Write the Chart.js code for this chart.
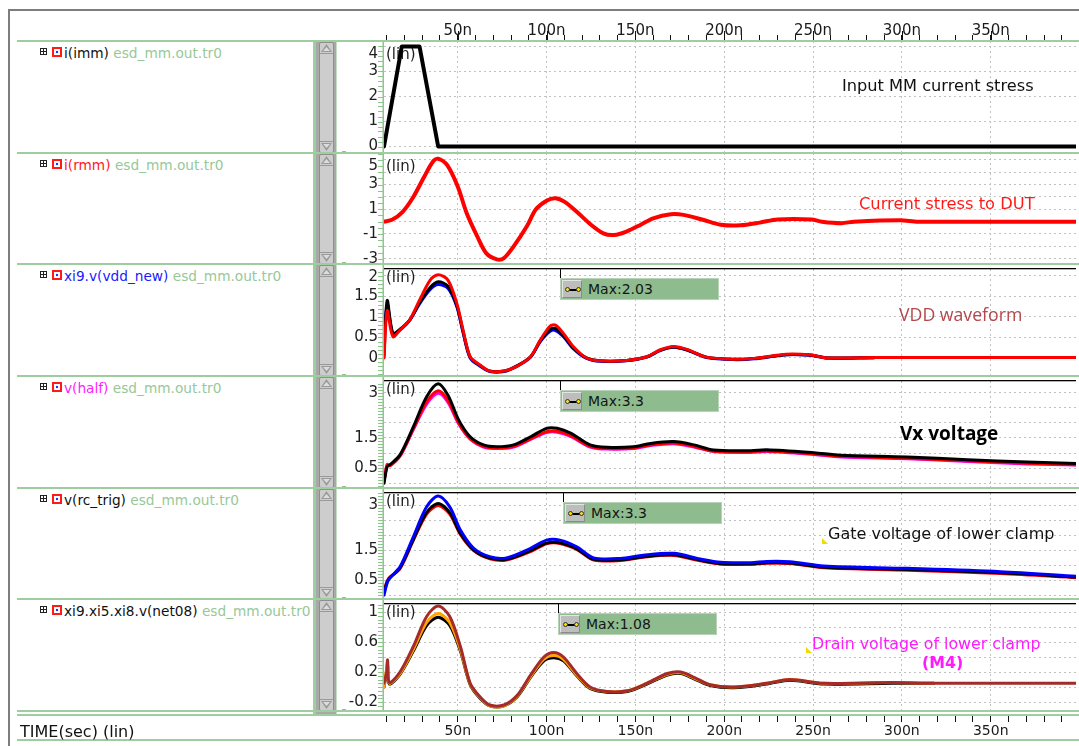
<!DOCTYPE html>
<html>
<head>
<meta charset="utf-8">
<script src="https://cdn.jsdelivr.net/npm/chart.js@4.4.1/dist/chart.umd.min.js"></script>
<style>
  html, body { margin: 0; padding: 0; background: #fff; }
  #view { position: relative; width: 1079px; height: 746px; overflow: hidden; background: #fff;
          font-family: "DejaVu Sans", sans-serif; }
  #view canvas { position: absolute; z-index: 2; }
</style>
</head>
<body>
<div id="view"></div>
<script>
// ---- waveform data, time in ns ----
const tMin = 8.5, tMax = 398;
const timeTicks = [50, 100, 150, 200, 250, 300, 350];

// i(imm): input MM current pulse
const tImm = [8.5, 18.5, 28.5, 39, 398];
const iImm = [0, 4, 4, 0, 0];
const immTicks = [4, 3, 2, 1, 0];

// i(rmm): current into the DUT
const tRmm = [8.5, 13, 19, 25, 31, 36, 39, 44, 50, 55, 61, 66, 72, 76, 81, 89, 94, 100, 105, 110, 117, 125, 132, 138, 145, 153, 160, 170, 177, 188, 198, 209, 220, 230, 249, 255, 266, 273, 299, 309, 398];
const iRmm = [0, 0.15, 0.8, 2.0, 3.6, 4.85, 5.1, 4.6, 2.85, 0.7, -1.2, -2.55, -3.05, -2.95, -2.1, -0.35, 1.0, 1.7, 1.9, 1.62, 0.8, -0.25, -0.95, -1.08, -0.8, -0.25, 0.27, 0.6, 0.55, 0.15, -0.25, -0.3, -0.08, 0.18, 0.18, 0, -0.12, 0, 0.12, 0, 0];
const rmmTicks = [5, 3, 1, -1, -3];

// xi9.v(vdd_new)
const tVdd = [8.5, 10.3, 13.5, 17.5, 23, 28.5, 34.5, 39, 44.5, 49.5, 53, 57, 62.5, 68, 76, 83, 91, 96.5, 102, 105, 109.5, 115, 122.5, 130, 145, 156.5, 164, 171.5, 179, 190, 205, 217, 235, 249, 258, 284, 398];
const vddRed = [0, 1.15, 0.52, 0.68, 0.93, 1.41, 1.9, 2.03, 1.9, 1.33, 0.68, 0.03, -0.17, -0.32, -0.32, -0.21, 0.03, 0.44, 0.78, 0.8, 0.6, 0.28, 0, -0.07, -0.06, 0.03, 0.2, 0.28, 0.21, 0.02, -0.03, -0.01, 0.09, 0.07, 0, 0.01, 0.01];
const vddBlack = [0.05, 1.4, 0.6, 0.7, 0.93, 1.35, 1.72, 1.86, 1.75, 1.28, 0.65, 0.02, -0.18, -0.32, -0.32, -0.2, 0.03, 0.42, 0.7, 0.72, 0.55, 0.25, 0, -0.07, -0.06, 0.03, 0.19, 0.27, 0.2, 0.02, -0.03, -0.01, 0.08, 0.07, 0, 0.01];
const vddBlue = [0.5, 1.3, 0.58, 0.68, 0.92, 1.32, 1.67, 1.79, 1.7, 1.25, 0.62, 0, -0.2, -0.33, -0.33, -0.21, 0.02, 0.4, 0.65, 0.67, 0.52, 0.23, -0.01, -0.08, -0.07, 0.02, 0.18, 0.26, 0.19, 0.01, -0.04, -0.02, 0.08, 0.06, 0, 0];
const vddTicks = [2, 1.5, 1, 0.5, 0];

// v(half)
const tHalf = [8.5, 10.3, 12, 17.5, 25, 32.5, 39, 44.5, 50.5, 57, 64.5, 72, 81.5, 91, 100, 106, 113.5, 124.5, 134, 149, 158.5, 171.5, 183, 194, 215, 224, 250.5, 265.5, 303, 337, 370.5, 398];
const halfBlack = [0, 0.55, 0.62, 0.94, 1.87, 2.87, 3.3, 2.92, 2.1, 1.54, 1.27, 1.21, 1.27, 1.54, 1.82, 1.82, 1.66, 1.27, 1.19, 1.21, 1.32, 1.38, 1.27, 1.1, 1.08, 1.11, 1.01, 0.93, 0.87, 0.78, 0.7, 0.65];
const halfRed = [0.05, 0.6, 0.58, 0.9, 1.8, 2.7, 3.07, 2.75, 2.0, 1.48, 1.22, 1.17, 1.22, 1.47, 1.71, 1.72, 1.58, 1.22, 1.15, 1.17, 1.27, 1.33, 1.22, 1.06, 1.04, 1.07, 0.97, 0.89, 0.83, 0.74, 0.66, 0.61];
const halfMagenta = [0.1, 0.62, 0.6, 0.9, 1.78, 2.62, 2.98, 2.68, 1.97, 1.46, 1.2, 1.15, 1.2, 1.45, 1.68, 1.69, 1.55, 1.2, 1.13, 1.15, 1.25, 1.31, 1.2, 1.05, 1.02, 1.05, 0.95, 0.87, 0.81, 0.72, 0.64, 0.6];
const halfTicks = [3, 1.5, 0.5];

// v(rc_trig)
const tTrig = [8.5, 11, 17.5, 25, 32.5, 39, 45.5, 51.5, 59, 68, 77.5, 91, 100, 107.5, 117, 126.5, 141.5, 154.5, 171.5, 186.5, 198, 215, 224, 237, 256, 303, 355.5, 398];
const trigBlue = [0, 0.5, 0.94, 1.94, 2.94, 3.3, 2.94, 2.17, 1.56, 1.28, 1.24, 1.56, 1.83, 1.83, 1.61, 1.24, 1.22, 1.33, 1.39, 1.2, 1.09, 1.08, 1.12, 1.11, 0.97, 0.89, 0.78, 0.63];
const trigBlack = [0.1, 0.52, 0.9, 1.85, 2.75, 3.05, 2.75, 2.05, 1.5, 1.23, 1.19, 1.48, 1.73, 1.74, 1.54, 1.19, 1.17, 1.28, 1.34, 1.16, 1.05, 1.04, 1.08, 1.07, 0.93, 0.85, 0.74, 0.6];
const trigRed = [0.15, 0.55, 0.88, 1.82, 2.7, 2.98, 2.7, 2.02, 1.48, 1.21, 1.17, 1.45, 1.71, 1.72, 1.52, 1.17, 1.15, 1.26, 1.32, 1.14, 1.03, 1.02, 1.06, 1.05, 0.91, 0.83, 0.72, 0.58];
const trigTicks = [3, 1.5, 0.5];

// xi9.xi5.xi8.v(net08)
const tNet = [8.5, 10, 10.5, 11.5, 17.5, 25, 32.5, 39, 45.5, 51.5, 57, 62.5, 68, 76, 83.5, 91, 98.5, 104, 109.5, 117, 124.5, 134, 145.5, 156.5, 168, 175.5, 183, 192, 205.5, 224, 237, 256, 294, 318, 398];
const netBrown = [0.05, 0.2, 0.36, 0.06, 0.2, 0.54, 0.94, 1.08, 0.94, 0.54, 0.05, -0.13, -0.24, -0.24, -0.11, 0.16, 0.4, 0.46, 0.4, 0.18, 0, -0.06, -0.05, 0.05, 0.18, 0.2, 0.13, 0.03, 0, 0.05, 0.1, 0.05, 0.06, 0.05, 0.05];
const netOrange = [0, 0.25, 0.33, 0.05, 0.18, 0.5, 0.86, 0.98, 0.86, 0.5, 0.04, -0.14, -0.25, -0.25, -0.12, 0.14, 0.37, 0.42, 0.37, 0.16, -0.01, -0.06, -0.05, 0.05, 0.17, 0.19, 0.12, 0.03, 0, 0.05, 0.1, 0.05, 0.06, 0.05];
const netBlack = [0, 0.2, 0.3, 0.04, 0.17, 0.48, 0.82, 0.93, 0.82, 0.48, 0.03, -0.15, -0.25, -0.25, -0.13, 0.13, 0.35, 0.39, 0.35, 0.15, -0.02, -0.07, -0.06, 0.04, 0.16, 0.18, 0.11, 0.02, -0.01, 0.04, 0.09, 0.04, 0.05, 0.05];
const netTicks = [1, 0.6, 0.2, -0.2];

// ---- panel layout ----
const rowTops = [41, 153, 264, 376, 488, 599, 711];
const GREEN = '#a0cda0';

const rows = [
  { name: 'i(imm)', nameColor: '#111', labels: tImm, min: -0.26, max: 4.22, step: 1, minor: 0.2, ticks: immTicks, topLine: false,
    sets: [{ data: iImm, color: '#000', width: 4, tension: 0 }] },
  { name: 'i(rmm)', nameColor: '#ff1a1a', labels: tRmm, min: -3.43, max: 5.56, step: 1, minor: 0.5, ticks: rmmTicks, topLine: false,
    sets: [{ data: iRmm, color: '#ff0000', width: 4 }] },
  { name: 'xi9.v(vdd_new)', nameColor: '#1a1aff', labels: tVdd, min: -0.44, max: 2.17, step: 0.5, minor: 0.1, ticks: vddTicks, topLine: true,
    sets: [{ data: vddRed, color: '#ff0000', width: 3 }, { data: vddBlack, color: '#000', width: 3 }, { data: vddBlue, color: '#0000ff', width: 3 }] },
  { name: 'v(half)', nameColor: '#ff1aff', labels: tHalf, min: -0.16, max: 3.39, step: 0.5, minor: 0.1, ticks: halfTicks, topLine: true,
    sets: [{ data: halfBlack, color: '#000', width: 3 }, { data: halfRed, color: '#ff0000', width: 3 }, { data: halfMagenta, color: '#ff00ff', width: 3 }] },
  { name: 'v(rc_trig)', nameColor: '#111', labels: tTrig, min: -0.13, max: 3.4, step: 0.5, minor: 0.1, ticks: trigTicks, topLine: true,
    sets: [{ data: trigBlue, color: '#0000ff', width: 3 }, { data: trigBlack, color: '#000', width: 3 }, { data: trigRed, color: '#ff0000', width: 3 }] },
  { name: 'xi9.xi5.xi8.v(net08)', nameColor: '#111', labels: tNet, min: -0.32, max: 1.107, step: 0.2, minor: 0.05, ticks: netTicks, topLine: true,
    sets: [{ data: netBrown, color: '#a52a2a', width: 3 }, { data: netOrange, color: '#ffa500', width: 3 }, { data: netBlack, color: '#000', width: 3 }] }
];

// marker readouts on the lower four panels
const maxBoxes = [
  { row: 2, x: 560, top: 278, text: 'Max:2.03' },
  { row: 3, x: 560, top: 390, text: 'Max:3.3' },
  { row: 4, x: 563, top: 502, text: 'Max:3.3' },
  { row: 5, x: 558, top: 613, text: 'Max:1.08' }
];

const view = document.getElementById('view');
function box(css, text) {
  const d = document.createElement('div');
  d.style.cssText = 'position:absolute;white-space:nowrap;' + css;
  if (text !== undefined) d.textContent = text;
  view.appendChild(d);
  return d;
}
function label(left, cy, size, css, text) {
  const lh = Math.round(size * 1.3);
  return box(`left:${left}px;top:${cy - lh / 2}px;line-height:${lh}px;font-size:${size}px;z-index:4;` + css, text);
}

// outer frame
box('left:8px;top:9px;width:1075px;height:745px;border-left:2px solid #7d7d7d;border-top:2px solid #7d7d7d;');

// scrollbar column
box('left:316px;top:41px;width:20px;height:673px;background:#a8a8a8;');
box(`left:313px;top:41px;width:3px;height:675px;background:${GREEN};z-index:3;`);
box('left:336px;top:41px;width:1px;height:675px;background:#c4dec4;');

for (let i = 0; i < 6; i++) {
  const top = rowTops[i], bot = rowTops[i + 1];
  const T = top + 1, H = bot - top - 3;
  box(`left:319px;top:${T}px;width:13px;height:${H}px;background:#cdcdcd;border:1px solid #8e8e8e;border-radius:2px;`);
  box(`left:320px;top:${T + 11}px;width:13px;height:1px;background:#9a9a9a;`);
  box(`left:320px;top:${T + H - 10}px;width:13px;height:1px;background:#9a9a9a;`);
  box(`left:321px;top:${T + 2}px;width:11px;height:8px;background:#9a9a9a;clip-path:polygon(50% 0,100% 100%,0 100%);`);
  box(`left:323px;top:${T + 5}px;width:7px;height:4px;background:#dcdcdc;clip-path:polygon(50% 0,100% 100%,0 100%);`);
  box(`left:321px;top:${T + H - 8}px;width:11px;height:8px;background:#9a9a9a;clip-path:polygon(0 0,100% 0,50% 100%);`);
  box(`left:323px;top:${T + H - 7}px;width:7px;height:4px;background:#dcdcdc;clip-path:polygon(0 0,100% 0,50% 100%);`);
  box(`left:342px;top:${bot - 2}px;width:4px;height:1px;background:#8cc68c;`);

  // signal name
  box(`left:40px;top:${top + 7}px;width:5px;height:5px;border:1px solid #222;background:linear-gradient(#222,#222) center/1px 100% no-repeat, linear-gradient(#222,#222) center/100% 1px no-repeat;`);
  box(`left:52px;top:${top + 6}px;width:6px;height:6px;border:2px solid #ff1a1a;background:radial-gradient(circle,#2030ff 0 1.3px,#fff 1.6px);`);
  const nm = box(`left:64px;top:${top + 3}px;line-height:18px;font-size:13.7px;`);
  const a = document.createElement('span'); a.textContent = rows[i].name; a.style.color = rows[i].nameColor;
  const b = document.createElement('span'); b.textContent = ' esd_mm.out.tr0'; b.style.color = '#98c898';
  nm.appendChild(a); nm.appendChild(b);
}

// row separators
rowTops.concat([715, 740]).forEach(y => box(`left:17px;top:${y - 1}px;width:1062px;height:1.5px;background:${GREEN};z-index:3;`));

// left-axis decorations, minor ticks, tick labels and the (lin) tag
const rowDecor = {
  id: 'rowDecor',
  beforeDatasetsDraw(chart, args, opts) {
    const { ctx, chartArea: a } = chart;
    const y = chart.scales.y;
    ctx.save();
    ctx.fillStyle = '#8cc68c';
    ctx.fillRect(a.left - 1.5, 0, 1.5, chart.height);
    ctx.strokeStyle = '#8cc68c';
    ctx.lineWidth = 1;
    ctx.beginPath();
    const n0 = Math.ceil(y.min / opts.minor - 1e-6), n1 = Math.floor(y.max / opts.minor + 1e-6);
    for (let k = n0; k <= n1; k++) {
      const py = Math.round(y.getPixelForValue(k * opts.minor)) + 0.5;
      ctx.moveTo(a.left - 6, py);
      ctx.lineTo(a.left - 1, py);
    }
    ctx.stroke();
    if (opts.topLine) {
      ctx.fillStyle = '#000';
      ctx.fillRect(a.left, a.top - 1, a.right - a.left, 1.3);
    }
    ctx.fillStyle = '#1e1e1e';
    ctx.font = '15px "DejaVu Sans"';
    ctx.textAlign = 'right';
    ctx.textBaseline = 'middle';
    opts.ticks.forEach(v => ctx.fillText(String(v), a.left - 6, Math.max(y.getPixelForValue(v), 13)));
    ctx.textAlign = 'left';
    ctx.fillText('(lin)', a.left + 2, 14.5);
    ctx.restore();
  }
};

const dotted = '#c2c2c2';
rows.forEach((r, i) => {
  const top = rowTops[i], h = rowTops[i + 1] - top;
  const cv = document.createElement('canvas');
  cv.width = 743; cv.height = h;
  cv.style.left = '336px'; cv.style.top = top + 'px';
  view.appendChild(cv);
  new Chart(cv, {
    type: 'line',
    data: {
      labels: r.labels,
      datasets: r.sets.map(s => ({
        data: s.data, borderColor: s.color, borderWidth: s.width, pointRadius: 0,
        tension: s.tension === 0 ? 0 : 0.3,
        borderJoinStyle: 'round', borderCapStyle: 'round', fill: false
      }))
    },
    options: {
      responsive: false, animation: false, events: [],
      layout: { padding: { top: r.topLine ? 5 : 0, right: 3 } },
      plugins: { legend: { display: false }, tooltip: { enabled: false }, rowDecor: { minor: r.minor, ticks: r.ticks, topLine: r.topLine } },
      scales: {
        x: { type: 'linear', min: tMin, max: tMax,
             afterFit(s) { s.height = 0; },
             ticks: { display: false, stepSize: 50, includeBounds: false },
             grid: { color: dotted, drawTicks: false },
             border: { display: false, dash: [2, 3] } },
        y: { min: r.min, max: r.max,
             afterFit(s) { s.width = 48; s.paddingTop = 0; s.paddingBottom = 0; },
             ticks: { display: false, stepSize: r.step, includeBounds: false },
             grid: { color: dotted, drawTicks: false },
             border: { display: false, dash: [2, 3] } }
      }
    },
    plugins: [rowDecor]
  });
});

// time axes above and below the panels
const majorTicks = {
  id: 'majorTicks',
  afterDraw(chart) {
    const x = chart.scales.x;
    if (x.position !== 'top') return;
    const ctx = chart.ctx;
    ctx.save();
    ctx.strokeStyle = '#111';
    ctx.lineWidth = 1;
    ctx.beginPath();
    timeTicks.forEach(v => {
      const px = Math.round(x.getPixelForValue(v)) + 0.5;
      ctx.moveTo(px, x.bottom);
      ctx.lineTo(px, x.bottom - 10);
    });
    ctx.stroke();
    ctx.restore();
  }
};
function timeAxis(position, top, height, axisHeight) {
  const cv = document.createElement('canvas');
  cv.width = 743; cv.height = height;
  cv.style.left = '336px'; cv.style.top = top + 'px';
  view.appendChild(cv);
  new Chart(cv, {
    type: 'line',
    data: { datasets: [] },
    options: {
      responsive: false, animation: false, events: [],
      layout: { padding: { left: 48, right: 3 } },
      plugins: { legend: { display: false }, tooltip: { enabled: false } },
      scales: {
        x: { type: 'linear', position, min: tMin, max: tMax,
             afterFit(s) { s.height = axisHeight; },
             ticks: { stepSize: 10, autoSkip: false, maxRotation: 0, includeBounds: false,
                      padding: position === 'top' ? -5 : 1, color: '#1a1a1a',
                      font: { family: 'DejaVu Sans', size: position === 'top' ? 15 : 14 },
                      callback: v => timeTicks.includes(Math.round(v)) ? Math.round(v) + 'n' : '' },
             grid: { drawOnChartArea: false, tickLength: 6, tickColor: '#111', tickWidth: 1 },
             border: { display: false } },
        y: { display: false, min: 0, max: 1 }
      }
    },
    plugins: [majorTicks]
  });
}
timeAxis('top', 9, 33, 32);
timeAxis('bottom', 711, 30, 25);

label(20, 731, 16, 'color:#111;', 'TIME(sec) (lin)');

// readout boxes
maxBoxes.forEach(m => {
  const plotTop = rowTops[m.row] + 5;
  box(`left:${m.x}px;top:${plotTop}px;width:1.2px;height:${m.top - plotTop}px;background:#000;z-index:4;`);
  const bx = box(`left:${m.x}px;top:${m.top}px;width:157px;height:20px;background:#8fbc8f;border:1px solid #b9d3b9;z-index:4;`);
  const btn = document.createElement('div');
  btn.style.cssText = 'position:absolute;left:1px;top:1px;width:18px;height:16px;background:#bdbdbd;border:1px solid #e4e4e4;border-right-color:#8a8a8a;border-bottom-color:#8a8a8a;';
  bx.appendChild(btn);
  const ln = document.createElement('div');
  ln.style.cssText = 'position:absolute;left:4px;top:8px;width:11px;height:1.5px;background:#000;';
  btn.appendChild(ln);
  [2, 13].forEach(dx => {
    const dot = document.createElement('div');
    dot.style.cssText = `position:absolute;left:${dx}px;top:6px;width:3px;height:3px;border-radius:50%;background:#f5e400;border:0.8px solid #333;`;
    btn.appendChild(dot);
  });
  const tx = document.createElement('div');
  tx.style.cssText = 'position:absolute;left:27px;top:0;line-height:20px;font-size:14px;color:#151515;';
  tx.textContent = m.text;
  bx.appendChild(tx);
});

// panel notes
label(842, 85, 16.2, 'color:#111;', 'Input MM current stress');
label(859, 203, 16.3, 'color:#ff1a1a;', 'Current stress to DUT');
label(899, 314, 17.7, 'color:#b4474b;font-family:"Open Sans",sans-serif;', 'VDD waveform');
label(900, 433, 19, 'color:#000;font-weight:bold;font-family:"Open Sans",sans-serif;', 'Vx voltage');
label(828, 533, 16, 'color:#111;', 'Gate voltage of lower clamp');
label(812, 643, 15.8, 'color:#ff1aff;', 'Drain voltage of lower clamp');
label(922, 662, 15.8, 'color:#ff1aff;font-weight:bold;', '(M4)');
box('left:822px;top:538px;width:6px;height:6px;background:#f0dc00;clip-path:polygon(0 0,100% 100%,0 100%);z-index:4;');
box('left:806px;top:647px;width:6px;height:6px;background:#f0dc00;clip-path:polygon(0 0,100% 100%,0 100%);z-index:4;');
</script>
</body>
</html>
